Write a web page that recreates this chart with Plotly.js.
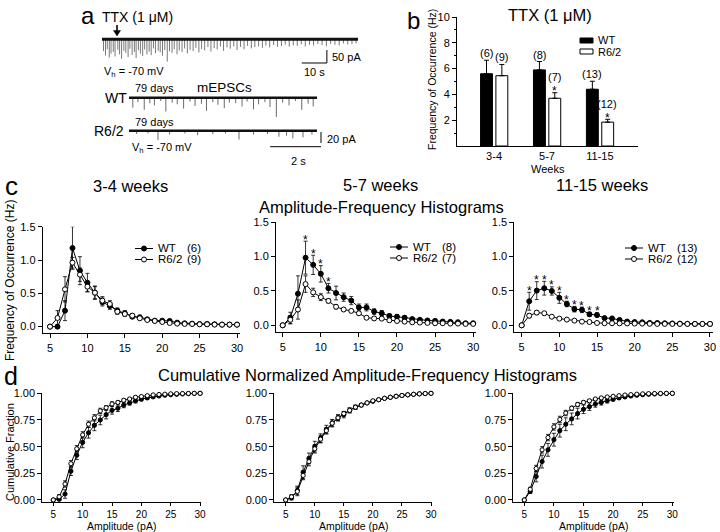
<!DOCTYPE html>
<html><head><meta charset="utf-8">
<script src="https://cdn.plot.ly/plotly-3.0.1.min.js"></script>
<style>html,body{margin:0;padding:0;background:#fff}#chart{width:720px;height:532px}</style>
</head><body><div id="chart"></div>
<script>
// ================= DATA =================
// panel a: spike events (time s, amplitude pA)
const topDuration = 102;
const topSpikeT = [0.6,1.4,2.1,2.9,3.6,4.5,5.2,6.3,7.0,7.8,8.7,9.5,10.4,11.1,12.0,12.9,13.6,14.5,15.3,16.2,17.0,17.9,18.8,19.6,20.5,21.3,22.4,23.2,24.1,25.0,26.0,26.9,27.9,28.8,29.9,30.8,31.9,32.9,34.0,35.1,36.3,37.4,38.6,39.7,40.9,42.2,43.4,44.7,45.9,47.2,48.4,49.8,51.1,52.5,53.8,55.2,56.6,58.0,59.5,60.9,62.4,63.9,65.3,66.8,68.4,69.9,71.5,73.0,74.6,76.2,77.8,79.4,81.0,82.7,84.3,86.0,87.7,89.4,91.1,92.8,94.5,96.2,97.9,99.6,101.2];
const topSpikeA = [45,62,38,70,55,48,66,40,58,75,44,52,68,36,60,49,72,42,55,64,39,58,47,61,35,53,44,50,63,41,86,46,52,38,57,43,49,35,54,40,45,33,50,37,42,30,47,34,39,28,44,31,36,27,41,29,38,25,35,30,27,33,24,31,22,29,26,20,28,23,25,19,27,21,24,18,22,26,17,21,23,16,20,18,15];
const mDuration = 7.4;
const wtSpikeT = [0.15,0.35,0.6,0.82,1.0,1.25,1.45,1.7,1.9,2.15,2.4,2.6,2.85,3.05,3.3,3.5,3.75,3.95,4.2,4.45,4.65,4.9,5.1,5.35,5.55,5.8,6.05,6.3,6.55,6.8,7.05,7.25];
const wtSpikeA = [18,8,22,10,14,6,25,9,12,20,7,15,11,24,8,13,19,9,10,16,7,21,12,8,17,35,9,14,6,22,11,16];
const r62SpikeT = [0.3,0.75,1.14,1.6,2.2,2.7,3.3,3.8,4.33,4.9,5.45,5.9,6.2,6.45,6.85,7.2];
const r62SpikeA = [6,5,17,7,5,8,6,5,16,7,6,11,9,14,12,7];

// panel b
const weekGroups = ['3-4','5-7','11-15'];
const barWT = [5.6, 5.9, 4.4];
const barWTerr = [1.05, 0.65, 0.62];
const barR62 = [5.45, 3.7, 1.85];
const barR62err = [0.87, 0.43, 0.22];
const barWTn = ['(6)','(8)','(13)'];
const barR62n = ['(9)','(7)','(12)'];
const barR62sig = [false, true, true];

// panels c & d: amplitude bins (pA)
const amp = [5,6,7,8,9,10,11,12,13,14,15,16,17,18,19,20,21,22,23,24,25,26,27,28,29,30];

const freq34WT     = [0,0,0.24,1.18,0.84,0.66,0.51,0.37,0.31,0.24,0.20,0.15,0.14,0.11,0.09,0.09,0.085,0.06,0.05,0.045,0.04,0.04,0.035,0.03,0.03,0.03];
const freq34WTerr  = [0,0,0.15,0.32,0.21,0.14,0.09,0.06,0.05,0.04,0.04,0.03,0.03,0.02,0.02,0.02,0.02,0.02,0.01,0.01,0.01,0.01,0.01,0.01,0.01,0.01];
const freq34R62    = [0,0.13,0.56,0.96,0.78,0.60,0.51,0.39,0.34,0.225,0.19,0.165,0.125,0.10,0.085,0.07,0.055,0.045,0.04,0.04,0.035,0.035,0.03,0.03,0.03,0.03];
const freq34R62err = [0,0.11,0.19,0.08,0.10,0.07,0.10,0.06,0.05,0.04,0.03,0.03,0.02,0.02,0.02,0.02,0.01,0.01,0.01,0.01,0.01,0.01,0.01,0.01,0.01,0.01];

const freq57WT     = [0,0.11,0.46,0.985,0.88,0.75,0.54,0.47,0.41,0.36,0.26,0.26,0.20,0.175,0.135,0.125,0.11,0.09,0.08,0.07,0.065,0.055,0.05,0.045,0.03,0.03];
const freq57WTerr  = [0,0.08,0.26,0.24,0.14,0.12,0.07,0.10,0.06,0.06,0.05,0.05,0.04,0.04,0.03,0.03,0.03,0.02,0.02,0.02,0.02,0.02,0.02,0.01,0.01,0.01];
const freq57R62    = [0,0.08,0.23,0.60,0.48,0.41,0.355,0.27,0.23,0.21,0.175,0.11,0.10,0.097,0.073,0.063,0.053,0.044,0.04,0.035,0.03,0.03,0.025,0.025,0.02,0.02];
const freq57R62err = [0,0.06,0.14,0.12,0.06,0.05,0.03,0.03,0.02,0.02,0.02,0.02,0.02,0.01,0.01,0.01,0.01,0.01,0.01,0.01,0.01,0.01,0.01,0.01,0.01,0.01];
const sig57 = [8,9,10,11];

const freq1115WT     = [0,0.35,0.505,0.54,0.50,0.40,0.31,0.235,0.225,0.16,0.15,0.105,0.10,0.078,0.055,0.048,0.044,0.035,0.034,0.03,0.027,0.025,0.022,0.02,0.02,0.02];
const freq1115WTerr  = [0,0.13,0.13,0.10,0.06,0.08,0.04,0.04,0.04,0.03,0.03,0.02,0.02,0.02,0.01,0.01,0.01,0.01,0.01,0.01,0.01,0.01,0.01,0.01,0.01,0.01];
const freq1115R62    = [0,0.14,0.185,0.175,0.125,0.097,0.083,0.068,0.053,0.048,0.034,0.03,0.03,0.028,0.027,0.025,0.025,0.022,0.02,0.02,0.02,0.02,0.02,0.02,0.02,0.02];
const freq1115R62err = [0,0.03,0.03,0.02,0.01,0.01,0.01,0.01,0.01,0.01,0.01,0.01,0.01,0.01,0.01,0.01,0.01,0.01,0.01,0.01,0.01,0.01,0.01,0.01,0.01,0.01];
const sig1115 = [6,7,8,9,10,11,12,13,14,15];

const cum34WT     = [0,0.006,0.056,0.27,0.42,0.54,0.63,0.70,0.75,0.80,0.84,0.86,0.89,0.91,0.93,0.945,0.957,0.967,0.975,0.982,0.987,0.991,0.994,0.997,0.999,1.0];
const cum34WTerr  = [0,0.01,0.04,0.04,0.04,0.05,0.05,0.05,0.045,0.04,0.035,0.03,0.025,0.02,0.02,0.015,0.012,0.01,0.008,0.006,0.005,0.004,0.003,0.002,0.001,0];
const cum34R62    = [0,0.03,0.15,0.34,0.48,0.61,0.71,0.77,0.835,0.865,0.90,0.915,0.935,0.947,0.963,0.97,0.978,0.985,0.989,0.992,0.995,0.997,0.998,0.999,1.0,1.0];
const cum34R62err = [0,0.02,0.03,0.03,0.03,0.03,0.03,0.03,0.025,0.02,0.02,0.015,0.012,0.01,0.008,0.006,0.005,0.004,0.003,0.002,0.002,0.001,0.001,0,0,0];

const cum57WT     = [0,0.02,0.09,0.26,0.39,0.50,0.58,0.66,0.72,0.77,0.80,0.84,0.87,0.89,0.91,0.925,0.94,0.953,0.963,0.972,0.98,0.986,0.991,0.995,0.998,1.0];
const cum57WTerr  = [0,0.02,0.04,0.06,0.05,0.05,0.04,0.04,0.035,0.03,0.03,0.025,0.02,0.015,0.012,0.01,0.008,0.006,0.005,0.004,0.003,0.002,0.002,0.001,0,0];
const cum57R62    = [0,0.03,0.08,0.23,0.36,0.48,0.57,0.65,0.72,0.77,0.81,0.84,0.87,0.89,0.91,0.93,0.94,0.953,0.963,0.972,0.98,0.986,0.991,0.995,0.998,1.0];
const cum57R62err = [0,0.02,0.04,0.04,0.04,0.04,0.035,0.03,0.03,0.025,0.02,0.02,0.015,0.012,0.01,0.008,0.006,0.005,0.004,0.003,0.002,0.002,0.001,0,0,0];

const cum1115WT     = [0,0.08,0.22,0.36,0.47,0.565,0.65,0.71,0.76,0.81,0.85,0.875,0.90,0.915,0.93,0.944,0.957,0.966,0.975,0.982,0.987,0.991,0.994,0.997,0.999,1.0];
const cum1115WTerr  = [0,0.02,0.05,0.06,0.06,0.06,0.06,0.06,0.055,0.05,0.04,0.035,0.03,0.025,0.02,0.015,0.012,0.01,0.008,0.006,0.005,0.004,0.003,0.002,0.001,0];
const cum1115R62    = [0,0.10,0.295,0.47,0.585,0.685,0.755,0.815,0.86,0.895,0.915,0.93,0.947,0.957,0.966,0.972,0.978,0.984,0.988,0.992,0.995,0.997,0.998,0.999,1.0,1.0];
const cum1115R62err = [0,0.02,0.03,0.03,0.03,0.03,0.03,0.025,0.02,0.02,0.015,0.012,0.01,0.008,0.006,0.005,0.004,0.003,0.002,0.002,0.001,0.001,0,0,0,0];

// ================= HELPERS =================
const FONT = 'Liberation Sans, Arial, Helvetica, sans-serif';
const W = 720, H = 532;
const PX = v => v / W;
const PY = v => 1 - v / H;
const xDom = (a, b) => [PX(a), PX(b)];
const yDom = (top, bottom) => [PY(bottom), PY(top)];

function spikeTrace(xa, ya, T, A, color, width) {
  const x = [], y = [];
  T.forEach((t, i) => { x.push(t, t, null); y.push(0, -A[i], null); });
  return {type:'scatter', mode:'lines', x, y, xaxis:xa, yaxis:ya, line:{color, width}, hoverinfo:'skip', showlegend:false};
}
function baseTrace(xa, ya, dur, width) {
  return {type:'scatter', mode:'lines', x:[0, dur], y:[0, 0], xaxis:xa, yaxis:ya, line:{color:'#111', width}, hoverinfo:'skip', showlegend:false};
}
function series(xa, ya, y, err, filled, msize) {
  return {type:'scatter', mode:'lines+markers', x:amp, y, xaxis:xa, yaxis:ya, cliponaxis:false, showlegend:false, hoverinfo:'skip',
    line:{color:'black', width:1},
    marker:{size:msize, color: filled ? 'black' : 'white', line:{color:'black', width:1}},
    error_y:{type:'data', array:err, visible:true, color:'black', thickness:0.8, width:2}};
}
const hidden = (domain, range) => ({domain, range, visible:false, fixedrange:true});
function axisStyle(extra) {
  return Object.assign({showline:true, linecolor:'black', linewidth:1, ticks:'outside', ticklen:4, tickwidth:1, tickcolor:'black',
    showgrid:false, zeroline:false, fixedrange:true, tickfont:{family:FONT, size:11, color:'black'}}, extra);
}

const annotations = [];
function T(text, x, y, size, opt) {
  annotations.push(Object.assign({text, x:PX(x), y:PY(y), xref:'paper', yref:'paper', showarrow:false,
    xanchor:'center', yanchor:'middle', font:{family:FONT, size, color:'black'}}, opt || {}));
}
const shapes = [];

// ================= TRACES =================
const data = [];
// panel a
data.push(spikeTrace('x', 'y', topSpikeT, topSpikeA, '#555', 0.8));
data.push(baseTrace('x', 'y', topDuration, 3));
data.push(spikeTrace('x2', 'y2', wtSpikeT, wtSpikeA, '#444', 0.8));
data.push(baseTrace('x2', 'y2', mDuration, 2.5));
data.push(spikeTrace('x3', 'y3', r62SpikeT, r62SpikeA, '#444', 0.8));
data.push(baseTrace('x3', 'y3', mDuration, 2.5));

// panel b
data.push({type:'bar', x:weekGroups, y:barWT, xaxis:'x4', yaxis:'y4', offset:-0.255, width:0.225,
  marker:{color:'black', line:{color:'black', width:1}}, showlegend:false, hoverinfo:'skip',
  error_y:{type:'data', symmetric:false, array:barWTerr, arrayminus:[0,0,0], color:'black', thickness:1, width:2.5}});
data.push({type:'bar', x:weekGroups, y:barR62, xaxis:'x4', yaxis:'y4', offset:0.035, width:0.225,
  marker:{color:'white', line:{color:'black', width:1}}, showlegend:false, hoverinfo:'skip',
  error_y:{type:'data', symmetric:false, array:barR62err, arrayminus:[0,0,0], color:'black', thickness:1, width:2.5}});

// panel c
data.push(series('x5','y5', freq34WT, freq34WTerr, true, 5));
data.push(series('x5','y5', freq34R62, freq34R62err, false, 5));
data.push(series('x6','y6', freq57WT, freq57WTerr, true, 5));
data.push(series('x6','y6', freq57R62, freq57R62err, false, 5));
data.push(series('x7','y7', freq1115WT, freq1115WTerr, true, 5));
data.push(series('x7','y7', freq1115R62, freq1115R62err, false, 5));
// panel d
data.push(series('x8','y8', cum34WT, cum34WTerr, true, 4.2));
data.push(series('x8','y8', cum34R62, cum34R62err, false, 4.2));
data.push(series('x9','y9', cum57WT, cum57WTerr, true, 4.2));
data.push(series('x9','y9', cum57R62, cum57R62err, false, 4.2));
data.push(series('x10','y10', cum1115WT, cum1115WTerr, true, 4.2));
data.push(series('x10','y10', cum1115R62, cum1115R62err, false, 4.2));

// ================= ANNOTATIONS / SHAPES =================
// panel labels
T('a', 88, 15, 24);
T('b', 414, 20, 24);
T('c', 11, 186, 26);
T('d', 11, 376, 25);

// panel a texts
T('TTX (1 μM)', 137.5, 17, 14);
shapes.push({type:'line', xref:'paper', yref:'paper', x0:PX(117), x1:PX(117), y0:PY(25), y1:PY(31), line:{color:'black', width:1.6}});
shapes.push({type:'path', xref:'paper', yref:'paper',
  path:`M ${PX(113.5)} ${PY(30.5)} L ${PX(120.5)} ${PY(30.5)} L ${PX(117)} ${PY(36)} Z`, fillcolor:'black', line:{color:'black', width:0.5}});
T('V<sub>h</sub> = -70 mV', 134, 72, 11);
T('10 s', 314, 72, 11);
T('50 pA', 330, 57, 11, {xanchor:'left'});
T('WT', 116, 98, 14);
T('79 days', 154, 88, 11);
T('mEPSCs', 224, 87, 13.5);
T('79 days', 154, 122, 11);
T('R6/2', 109, 131, 14);
T('V<sub>h</sub> = -70 mV', 162, 148, 11);
T('20 pA', 325, 139, 11, {xanchor:'left'});
T('2 s', 298, 161, 11);
// scale bars (data units)
shapes.push({type:'line', xref:'x', yref:'y', x0:89.6, x1:89.6, y0:-41, y1:-91, line:{color:'black', width:1}});
shapes.push({type:'line', xref:'x', yref:'y', x0:79.6, x1:89.6, y0:-91, y1:-91, line:{color:'black', width:1}});
shapes.push({type:'line', xref:'x3', yref:'y3', x0:7.557, x1:7.557, y0:-2.4, y1:-22.4, line:{color:'black', width:1}});
shapes.push({type:'line', xref:'x3', yref:'y3', x0:5.557, x1:7.557, y0:-29.1, y1:-29.1, line:{color:'black', width:1}});

// panel b
T('TTX (1 μM)', 550, 15, 16.5);
T('Frequency of Occurrence (Hz)', 432, 80, 10.5, {textangle:-90});
T('Weeks', 548, 169.5, 11);
shapes.push({type:'rect', xref:'paper', yref:'paper', x0:PX(580), x1:PX(593), y0:PY(43), y1:PY(38), fillcolor:'black', line:{color:'black', width:1}});
shapes.push({type:'rect', xref:'paper', yref:'paper', x0:PX(580), x1:PX(593), y0:PY(54), y1:PY(49), fillcolor:'white', line:{color:'black', width:1}});
T('WT', 596, 40, 11, {xanchor:'left'});
T('R6/2', 596, 52, 11, {xanchor:'left'});
weekGroups.forEach((g, i) => {
  annotations.push({x:g, y:barWT[i] + barWTerr[i], xref:'x4', yref:'y4', xshift:-7.5, yshift:7, showarrow:false,
    text:barWTn[i], yanchor:'middle', font:{family:FONT, size:11, color:'black'}});
  annotations.push({x:g, y:barR62[i] + barR62err[i], xref:'x4', yref:'y4', xshift:7.5, yshift: barR62sig[i] ? 15.5 : 7, showarrow:false,
    text:barR62n[i], yanchor:'middle', font:{family:FONT, size:11, color:'black'}});
  if (barR62sig[i]) annotations.push({x:g, y:barR62[i] + barR62err[i], xref:'x4', yref:'y4', xshift:7.5, yshift:1.5, showarrow:false,
    text:'*', yanchor:'middle', font:{family:FONT, size:12, color:'black'}});
});

// panel c titles
T('3-4 weeks', 130, 186, 16.5);
T('5-7 weeks', 380, 185, 16.5);
T('11-15 weeks', 602, 185, 16.5);
T('Amplitude-Frequency Histograms', 381, 207, 16.5);
T('Frequency of Occurrence (Hz)', 10, 281, 12, {textangle:-90});
function legendC(x0, yW, yR, nW, nR) {
  [[yW, 'black', 'WT', nW], [yR, 'white', 'R6/2', nR]].forEach(([yy, fill, lab, n]) => {
    shapes.push({type:'line', xref:'paper', yref:'paper', x0:PX(x0), x1:PX(x0 + 18), y0:PY(yy), y1:PY(yy), line:{color:'black', width:1}});
    shapes.push({type:'circle', xref:'paper', yref:'paper', x0:PX(x0 + 6.5), x1:PX(x0 + 11.5), y0:PY(yy + 2.5), y1:PY(yy - 2.5), fillcolor:fill, line:{color:'black', width:1}});
    T(lab, x0 + 21, yy, 11.5, {xanchor:'left'});
    T(n, x0 + 50, yy, 11.5, {xanchor:'left'});
  });
}
legendC(135, 248.5, 259.5, '(6)', '(9)');
legendC(390, 247, 258, '(8)', '(7)');
legendC(625, 248, 259, '(13)', '(12)');
function stars(xa, ya, sig, vals, errs) {
  sig.forEach(a => { const i = amp.indexOf(a);
    annotations.push({x:a, y:vals[i] + errs[i], xref:xa, yref:ya, yshift:1.5, showarrow:false, text:'*', yanchor:'middle',
      font:{family:FONT, size:12, color:'black'}}); });
}
stars('x6', 'y6', sig57, freq57WT, freq57WTerr);
stars('x7', 'y7', sig1115, freq1115WT, freq1115WTerr);

// panel d titles
T('Cumulative Normalized Amplitude-Frequency Histograms', 367, 375, 16.5);
T('Cumulative Fraction', 10, 452, 11, {textangle:-90});
T('Amplitude (pA)', 121.6, 526, 10.5);
T('Amplitude (pA)', 353, 526, 10.5);
T('Amplitude (pA)', 593, 526, 10.5);

// ================= LAYOUT =================
const cX = r => axisStyle({range:r, tickvals:[5,10,15,20,25,30]});
const cY = r => axisStyle({range:r, tickvals:[0,0.5,1,1.5], tickformat:'.1f'});
const dX = r => axisStyle({range:r, tickvals:[5,10,15,20,25,30], ticklen:3, tickfont:{family:FONT, size:10, color:'black'}});
const dY = r => axisStyle({range:r, tickvals:[0,0.25,0.5,0.75,1], tickformat:'.2f'});

const layout = {
  width:W, height:H, margin:{l:0, r:0, t:0, b:0}, paper_bgcolor:'white', plot_bgcolor:'white',
  showlegend:false, font:{family:FONT, color:'black'},
  xaxis: hidden(xDom(102, 358), [0, topDuration]),
  yaxis: hidden(yDom(30, 70), [-118, 36]),
  xaxis2: hidden(xDom(129, 317), [0, mDuration]),
  yaxis2: hidden(yDom(85, 122), [-44.2, 23.1]),
  xaxis3: hidden(xDom(129, 323), [0, 7.636]),
  yaxis3: hidden(yDom(120, 150), [-35.1, 19.45]),
  xaxis4: axisStyle({domain:xDom(457, 638), range:[-0.70, 2.72], type:'category', ticks:'', ticklen:0, tickfont:{family:FONT, size:11, color:'black'}}),
  yaxis4: axisStyle({domain:yDom(17, 146), range:[0, 10], tickvals:[2,4,6,8,10], ticklen:4,
    minor:{tickvals:[1,3,5,7,9], ticks:'outside', ticklen:2.5, tickcolor:'black'}}),
  xaxis5: Object.assign(cX([4.02, 30.4]), {domain:xDom(42.7, 240), anchor:'y5'}),
  yaxis5: Object.assign(cY([-0.1, 1.5]), {domain:yDom(226.7, 333.3), anchor:'x5'}),
  xaxis6: Object.assign(cX([4.12, 30.37]), {domain:xDom(276, 476), anchor:'y6'}),
  yaxis6: Object.assign(cY([-0.102, 1.5]), {domain:yDom(222.3, 332.3), anchor:'x6'}),
  xaxis7: Object.assign(cX([4.02, 30.4]), {domain:xDom(514.3, 713), anchor:'y7'}),
  yaxis7: Object.assign(cY([-0.102, 1.5]), {domain:yDom(222.3, 332.3), anchor:'x7'}),
  xaxis8: Object.assign(dX([3.13, 30.15]), {domain:xDom(42.3, 201), anchor:'y8'}),
  yaxis8: Object.assign(dY([-0.019, 1.003]), {domain:yDom(393, 502), anchor:'x8'}),
  xaxis9: Object.assign(dX([3.04, 30.17]), {domain:xDom(274.3, 432), anchor:'y9'}),
  yaxis9: Object.assign(dY([-0.019, 1.003]), {domain:yDom(393, 502), anchor:'x9'}),
  xaxis10: Object.assign(dX([3.14, 30.2]), {domain:xDom(513.3, 673.5), anchor:'y10'}),
  yaxis10: Object.assign(dY([-0.019, 1.003]), {domain:yDom(393, 502), anchor:'x10'}),
  annotations, shapes
};
layout.xaxis.anchor = 'y'; layout.yaxis.anchor = 'x';
layout.xaxis2.anchor = 'y2'; layout.yaxis2.anchor = 'x2';
layout.xaxis3.anchor = 'y3'; layout.yaxis3.anchor = 'x3';
layout.xaxis4.anchor = 'y4'; layout.yaxis4.anchor = 'x4';

Plotly.newPlot('chart', data, layout, {staticPlot:true, displayModeBar:false});
</script>
</body></html>
